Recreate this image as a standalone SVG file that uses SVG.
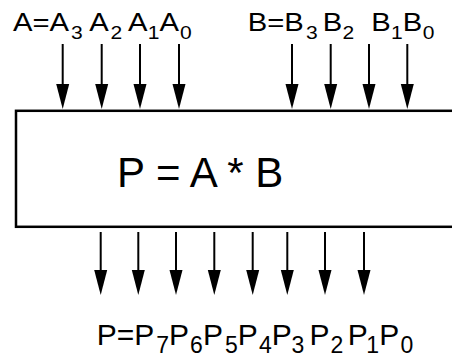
<svg xmlns="http://www.w3.org/2000/svg" width="452" height="357" viewBox="0 0 452 357">
<style>
text{font-family:"Liberation Sans",Arial,sans-serif;fill:#000}
.mt{font-size:25px}
.st{font-size:18px}
.mb{font-size:30px}
.sb{font-size:23px}
.c{font-size:42px}
.ar{stroke:#000;stroke-width:2;fill:none;marker-end:url(#ah)}
</style>
<defs>
<marker id="ah" markerUnits="userSpaceOnUse" markerWidth="26" markerHeight="16" refX="0" refY="6.5" orient="auto" viewBox="0 0 26 13">
<path d="M0,0 L25,6.5 L0,13 Z" fill="#000"/>
</marker>
</defs>
<g id="multiplier">
<rect x="16" y="110.8" width="460" height="116" fill="#fff" stroke="#000" stroke-width="2.5"/>
<text class="c" x="117" y="186.5">P = A * B</text>
</g>
<g id="label-A" transform="scale(1.17,1)">
<text><tspan class="mt" x="11.1" y="31">A=A</tspan><tspan class="st" x="60.7" y="39">3</tspan><tspan class="mt" x="76.3" y="31">A</tspan><tspan class="st" x="94.4" y="39">2</tspan><tspan class="mt" x="109.4" y="31">A</tspan><tspan class="st" x="126.2" y="39">1</tspan><tspan class="mt" x="136.4" y="31">A</tspan><tspan class="st" x="153.8" y="39">0</tspan></text>
</g>
<g id="label-B" transform="scale(1.17,1)">
<text><tspan class="mt" x="211.8" y="31">B=B</tspan><tspan class="st" x="261.5" y="39">3</tspan><tspan class="mt" x="275.9" y="31">B</tspan><tspan class="st" x="292.7" y="39">2</tspan><tspan class="mt" x="317.3" y="31">B</tspan><tspan class="st" x="334.1" y="39">1</tspan><tspan class="mt" x="344.2" y="31">B</tspan><tspan class="st" x="361.3" y="39">0</tspan></text>
</g>
<g id="label-P">
<text><tspan class="mb" x="96.7" y="345">P=P</tspan><tspan class="sb" x="156.2" y="353">7</tspan><tspan class="mb" x="169" y="345">P</tspan><tspan class="sb" x="189.9" y="353">6</tspan><tspan class="mb" x="203" y="345">P</tspan><tspan class="sb" x="224.9" y="353">5</tspan><tspan class="mb" x="237.8" y="345">P</tspan><tspan class="sb" x="258.9" y="353">4</tspan><tspan class="mb" x="271.8" y="345">P</tspan><tspan class="sb" x="291.6" y="353">3</tspan><tspan class="mb" x="309.4" y="345">P</tspan><tspan class="sb" x="330.6" y="353">2</tspan><tspan class="mb" x="347.7" y="345">P</tspan><tspan class="sb" x="366.2" y="353">1</tspan><tspan class="mb" x="379.2" y="345">P</tspan><tspan class="sb" x="400.6" y="353">0</tspan></text>
</g>
<g id="connectors">
<line class="ar" x1="62.7" y1="44" x2="62.7" y2="84"/>
<line class="ar" x1="101.7" y1="44" x2="101.7" y2="84"/>
<line class="ar" x1="140" y1="44" x2="140" y2="84"/>
<line class="ar" x1="179" y1="44" x2="179" y2="84"/>
<line class="ar" x1="292" y1="44" x2="292" y2="84"/>
<line class="ar" x1="330.7" y1="44" x2="330.7" y2="84"/>
<line class="ar" x1="369" y1="44" x2="369" y2="84"/>
<line class="ar" x1="407.3" y1="44" x2="407.3" y2="84"/>
<line class="ar" x1="100.7" y1="232" x2="100.7" y2="270"/>
<line class="ar" x1="138.3" y1="232" x2="138.3" y2="270"/>
<line class="ar" x1="176" y1="232" x2="176" y2="270"/>
<line class="ar" x1="214.3" y1="232" x2="214.3" y2="270"/>
<line class="ar" x1="252.7" y1="232" x2="252.7" y2="270"/>
<line class="ar" x1="287.3" y1="232" x2="287.3" y2="270"/>
<line class="ar" x1="325" y1="232" x2="325" y2="270"/>
<line class="ar" x1="364" y1="232" x2="364" y2="270"/>
</g>
</svg>
